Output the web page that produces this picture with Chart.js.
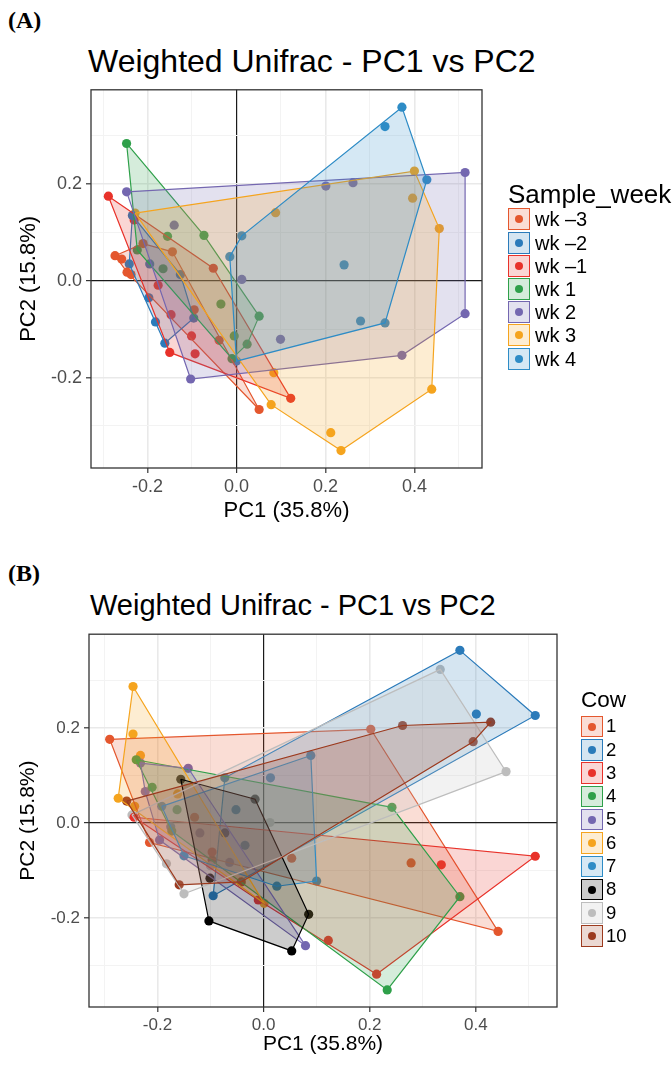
<!DOCTYPE html>
<html>
<head>
<title>Weighted Unifrac - PC1 vs PC2</title>
<script src="https://cdn.jsdelivr.net/npm/chart.js"></script>
<style>
    body { margin: 0; background: #fff; }
    #page { position: relative; width: 672px; height: 1065px; font-family: "Liberation Sans", Arial, sans-serif; color: #000; }
    .tag { position: absolute; font-family: "Liberation Serif", "Times New Roman", serif; font-weight: bold; font-size: 24px; line-height: 24px; }
    .ttl { position: absolute; white-space: nowrap; }
    canvas { position: absolute; left: 0; }
    .legend { position: absolute; }
    .legend .lt { position: absolute; white-space: nowrap; }
    .legend .key { position: absolute; box-sizing: border-box; }
    .legend .dot { position: absolute; border-radius: 50%; }
    .legend .lab { position: absolute; white-space: nowrap; }
</style>
</head>
<body>
<div id="page">
    <div class="tag" style="left:8px;top:8px">(A)</div>
    <div class="ttl" style="left:88px;top:45px;font-size:32px;line-height:32px">Weighted Unifrac - PC1 vs PC2</div>
    <canvas id="chartA" width="672" height="460" style="top:75px"></canvas>
    <div class="legend" id="legendA"></div>

    <div class="tag" style="left:8px;top:561px">(B)</div>
    <div class="ttl" style="left:90px;top:591px;font-size:29px;line-height:29px">Weighted Unifrac - PC1 vs PC2</div>
    <canvas id="chartB" width="672" height="445" style="top:620px"></canvas>
    <div class="legend" id="legendB"></div>
</div>
<script>
    // Panel A - grouped by sampling week  [PC1, PC2]
    const weekLabels = ['wk \u20133', 'wk \u20132', 'wk \u20131', 'wk 1', 'wk 2', 'wk 3', 'wk 4'];
    const weekColors = ['#E4572E', '#2B7BBA', '#E8322A', '#2FA04A', '#7467B0', '#F5A41E', '#2E8CC6'];
    const wkM3 = [[-0.273, 0.052], [-0.258, 0.045], [-0.246, 0.018], [-0.237, 0.013], [-0.210, 0.077],
                  [-0.144, 0.060], [-0.095, -0.060], [-0.039, -0.123], [0.051, -0.266]];
    const wkM2 = [[-0.234, 0.135], [-0.241, 0.035], [-0.197, -0.035], [-0.182, -0.085], [-0.161, -0.129],
                  [-0.195, 0.035], [-0.096, -0.077], [-0.126, 0.013]];
    const wkM1 = [[-0.288, 0.175], [-0.230, 0.126], [-0.176, -0.009], [-0.147, -0.070], [-0.101, -0.114],
                  [-0.150, -0.148], [-0.052, 0.026], [0.122, -0.243], [-0.093, -0.151]];
    const wk1 = [[-0.247, 0.284], [-0.223, 0.064], [-0.155, 0.092], [-0.073, 0.094], [-0.165, 0.025],
                 [0.051, -0.073], [-0.005, -0.114], [0.024, -0.131], [-0.010, -0.161], [-0.035, -0.048]];
    const wk2 = [[-0.247, 0.184], [0.514, 0.224], [0.514, -0.068], [0.372, -0.154], [-0.103, -0.203],
                 [0.201, 0.196], [0.262, 0.203], [-0.140, 0.115], [0.012, 0.003], [0.099, -0.121]];
    const wk3 = [[-0.228, 0.140], [0.400, 0.227], [0.456, 0.108], [0.439, -0.224], [0.235, -0.351],
                 [0.078, -0.256], [0.088, 0.141], [0.396, 0.171], [0.084, -0.190], [0.212, -0.314]];
    const wk4 = [[0.372, 0.359], [0.334, 0.319], [0.428, 0.209], [0.012, 0.093], [-0.015, 0.050],
                 [0.242, 0.033], [0.279, -0.083], [0.334, -0.087], [0.000, -0.166]];
    const weekPoints = [wkM3, wkM2, wkM1, wk1, wk2, wk3, wk4];

    // Panel B - grouped by cow  [PC1, PC2]
    const cowLabels = ['1', '2', '3', '4', '5', '6', '7', '8', '9', '10'];
    const cowColors = ['#E4572E', '#2B7BBA', '#E8322A', '#2FA04A', '#7467B0', '#F5A41E', '#2E8CC6', '#000000', '#BDBDBD', '#9C3A1E'];
    const cow1 = [[-0.290, 0.176], [0.202, 0.197], [0.278, -0.084], [0.442, -0.228], [0.053, -0.074], [-0.215, -0.041], [-0.130, 0.012]];
    const cow2 = [[0.370, 0.363], [0.512, 0.226], [0.401, 0.229], [-0.073, 0.095], [-0.095, -0.153], [-0.035, -0.047], [-0.052, 0.028]];
    const cow3 = [[-0.244, 0.012], [0.512, -0.070], [0.335, -0.088], [0.213, -0.318], [0.122, -0.247], [-0.010, -0.162], [-0.097, -0.061]];
    const cow4 = [[-0.240, 0.133], [-0.210, 0.075], [-0.163, 0.028], [0.242, 0.033], [0.370, -0.155], [0.233, -0.351], [-0.173, -0.017]];
    const cow5 = [[-0.232, 0.126], [-0.142, 0.115], [-0.223, 0.066], [-0.196, -0.036], [0.079, -0.258], [-0.064, -0.083], [-0.120, -0.021]];
    const cow6 = [[-0.246, 0.287], [-0.246, 0.187], [-0.232, 0.142], [-0.274, 0.052], [-0.243, 0.035], [0.001, -0.169], [-0.162, 0.061]];
    const cow7 = [[0.013, 0.095], [0.089, 0.142], [0.100, -0.122], [0.025, -0.133], [-0.175, -0.008], [-0.192, 0.035], [-0.150, -0.069]];
    const cow8 = [[-0.156, 0.092], [-0.016, 0.050], [0.085, -0.192], [0.053, -0.269], [-0.103, -0.206], [-0.101, -0.116], [-0.073, -0.021]];
    const cow9 = [[0.333, 0.323], [0.457, 0.108], [0.012, 0.001], [-0.150, -0.149], [-0.183, -0.086], [-0.248, 0.017], [-0.100, -0.090]];
    const cow10 = [[-0.258, 0.046], [0.262, 0.205], [0.428, 0.212], [0.395, 0.171], [-0.042, -0.124], [-0.159, -0.130], [-0.097, -0.078]];
    const cowPoints = [cow1, cow2, cow3, cow4, cow5, cow6, cow7, cow8, cow9, cow10];

    const xTitle = 'PC1 (35.8%)';
    const yTitle = 'PC2 (15.8%)';
    const FONT = "'Liberation Sans', Arial, sans-serif";

    function rgba(hex, a) {
        let n = parseInt(hex.slice(1), 16);
        return 'rgba(' + (n >> 16) + ',' + ((n >> 8) & 255) + ',' + (n & 255) + ',' + a + ')';
    }

    // convex hull (monotone chain), same as chull() in R
    function hull(pts) {
        let p = pts.slice().sort((a, b) => a[0] - b[0] || a[1] - b[1]);
        let cross = (o, a, b) => (a[0] - o[0]) * (b[1] - o[1]) - (a[1] - o[1]) * (b[0] - o[0]);
        let lower = [], upper = [];
        for (let q of p) {
            while (lower.length >= 2 && cross(lower[lower.length - 2], lower[lower.length - 1], q) <= 0) lower.pop();
            lower.push(q);
        }
        for (let i = p.length - 1; i >= 0; i--) {
            let q = p[i];
            while (upper.length >= 2 && cross(upper[upper.length - 2], upper[upper.length - 1], q) <= 0) upper.pop();
            upper.push(q);
        }
        upper.pop();
        lower.pop();
        return lower.concat(upper);
    }

    const framePlugin = {
        id: 'frame',
        afterDatasetsDraw(chart) {
            let ctx = chart.ctx, a = chart.chartArea;
            ctx.save();
            ctx.strokeStyle = '#333333';
            ctx.lineWidth = 1.3;
            ctx.strokeRect(a.left, a.top, a.right - a.left, a.bottom - a.top);
            ctx.restore();
        }
    };

    let tenth = v => Math.round(v * 10);
    let gridColor = c => {
        let k = tenth(c.tick.value);
        if (k === 0) return '#1a1a1a';
        return k % 2 ? '#f3f3f3' : '#e9e9e9';
    };
    let gridWidth = c => {
        let k = tenth(c.tick.value);
        if (k === 0) return 1.2;
        return k % 2 ? 1 : 1.6;
    };
    let tickColor = c => tenth(c.tick.value) % 2 ? 'rgba(0,0,0,0)' : '#333333';
    let tickLabel = v => tenth(v) % 2 ? '' : (tenth(v) / 10).toFixed(1);

    function makeChart(id, groups, colors, o) {
        let datasets = [];
        groups.forEach((pts, i) => {
            let h = hull(pts).map(p => ({x: p[0], y: p[1]}));
            h.push(h[0]);
            datasets.push({
                data: h,
                showLine: true,
                fill: 'shape',
                backgroundColor: rgba(colors[i], 0.2),
                borderColor: colors[i],
                borderWidth: 1.2,
                pointRadius: 0,
                pointHoverRadius: 0,
                order: 1 + (groups.length - i) * 0.01
            });
        });
        groups.forEach((pts, i) => {
            datasets.push({
                data: pts.map(p => ({x: p[0], y: p[1]})),
                pointRadius: 4.6,
                pointBackgroundColor: colors[i],
                pointBorderWidth: 0,
                order: 5
            });
        });
        return new Chart(document.getElementById(id), {
            type: 'scatter',
            data: {datasets: datasets},
            options: {
                responsive: false,
                animation: false,
                layout: {padding: {left: 0, right: o.padRight, top: o.padTop, bottom: 0}},
                plugins: {legend: {display: false}, tooltip: {enabled: false}},
                scales: {
                    x: {
                        type: 'linear', min: o.xmin, max: o.xmax,
                        ticks: {stepSize: 0.1, includeBounds: false, autoSkip: false, maxRotation: 0, padding: 3,
                            color: '#4d4d4d', font: {family: FONT, size: o.tickSize}, callback: tickLabel},
                        grid: {color: gridColor, lineWidth: gridWidth, tickColor: tickColor, tickLength: 5, tickWidth: 1.2},
                        border: {display: false},
                        title: {display: true, text: xTitle, color: '#000', font: {family: FONT, size: o.titleSize},
                            padding: {top: 0, bottom: o.xTitlePad}},
                        afterFit: s => { s.height = o.xHeight; }
                    },
                    y: {
                        type: 'linear', min: o.ymin, max: o.ymax,
                        ticks: {stepSize: 0.1, includeBounds: false, autoSkip: false, padding: 4,
                            color: '#4d4d4d', font: {family: FONT, size: o.tickSize}, callback: tickLabel},
                        grid: {color: gridColor, lineWidth: gridWidth, tickColor: tickColor, tickLength: 5, tickWidth: 1.2},
                        border: {display: false},
                        title: {display: true, text: yTitle, color: '#000', font: {family: FONT, size: o.titleSize},
                            padding: {top: o.yTitlePad, bottom: 0}},
                        afterFit: s => { s.width = o.yWidth; }
                    }
                }
            },
            plugins: [framePlugin]
        });
    }

    function makeLegend(id, title, labels, colors, o) {
        let el = document.getElementById(id);
        let html = '<div class="lt" style="left:' + o.left + 'px;top:' + (o.titleY - o.titleSize / 2) + 'px;font-size:' + o.titleSize +
            'px;line-height:' + o.titleSize + 'px">' + title + '</div>';
        labels.forEach((lab, i) => {
            let cy = o.firstY + i * o.step;
            html += '<div class="key" style="left:' + o.left + 'px;top:' + (cy - o.key / 2) + 'px;width:' + o.key + 'px;height:' + o.key +
                'px;background:' + rgba(colors[i], 0.2) + ';border:1.5px solid ' + colors[i] + '"></div>';
            html += '<div class="dot" style="left:' + (o.left + o.key / 2 - 4) + 'px;top:' + (cy - 4) + 'px;width:8px;height:8px;background:' + colors[i] + '"></div>';
            html += '<div class="lab" style="left:' + o.textX + 'px;top:' + (cy - o.textSize / 2) + 'px;font-size:' + o.textSize +
                'px;line-height:' + o.textSize + 'px">' + lab + '</div>';
        });
        el.innerHTML = html;
    }

    makeChart('chartA', weekPoints, weekColors, {
        xmin: -0.327, xmax: 0.552, ymin: -0.387, ymax: 0.395,
        padRight: 190, padTop: 8, yWidth: 91, xHeight: 67,
        tickSize: 18, titleSize: 22, xTitlePad: 11, yTitlePad: 16
    });
    makeChart('chartB', cowPoints, cowColors, {
        xmin: -0.329, xmax: 0.553, ymin: -0.387, ymax: 0.397,
        padRight: 115, padTop: 8, yWidth: 89, xHeight: 58,
        tickSize: 17, titleSize: 21, xTitlePad: 8, yTitlePad: 16
    });

    makeLegend('legendA', 'Sample_week', weekLabels, weekColors,
        {left: 508, titleY: 194, titleSize: 26, firstY: 219.3, step: 23.2, key: 22, textX: 535, textSize: 20});
    makeLegend('legendB', 'Cow', cowLabels, cowColors,
        {left: 581, titleY: 700, titleSize: 22.5, firstY: 726.7, step: 23.26, key: 21.5, textX: 606, textSize: 18.5});
</script>
</body>
</html>
